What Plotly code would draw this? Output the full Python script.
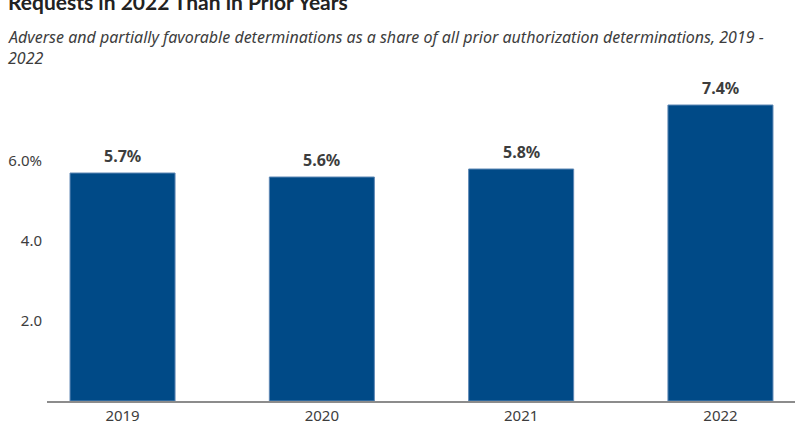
import plotly.graph_objects as go

years = ["2019", "2020", "2021", "2022"]
shares = [5.7, 5.6, 5.8, 7.4]
bar_labels = ["5.7%", "5.6%", "5.8%", "7.4%"]
ytick_vals = [2, 4, 6]
ytick_text = ["2.0", "4.0", "6.0%"]

title_text = "Requests in 2022 Than in Prior Years"
subtitle_1 = "Adverse and partially favorable determinations as a share of all prior authorization determinations, 2019 -"
subtitle_2 = "2022"

BAR = "#004a87"
TXT = "#3d3d3d"
FONT = "Noto Sans"

fig = go.Figure()
fig.add_trace(go.Bar(
    x=list(range(len(years))),
    y=shares,
    width=0.527,
    marker=dict(color=BAR, line=dict(color="#5f88b5", width=1)),
    hoverinfo="skip",
))

H_TOP = 97
H_BOT = 44
plot_h = 445 - H_TOP - H_BOT

def py(pix):
    return (445 - H_BOT - pix) / plot_h

annotations = [
    dict(x=i, y=v, xref="x", yref="y", text="<b>" + lab + "</b>",
         showarrow=False, yanchor="bottom", yshift=4,
         font=dict(family=FONT, size=16, color=TXT))
    for i, (v, lab) in enumerate(zip(shares, bar_labels))
]
annotations += [
    dict(text="<b>" + title_text + "</b>", xref="paper", yref="paper",
         x=(6 - 47) / 748, y=py(16), xanchor="left", yanchor="bottom",
         showarrow=False, font=dict(family="Lato", size=21, color="#222222")),
    dict(text="<i>" + subtitle_1 + "</i>", xref="paper", yref="paper",
         x=(6 - 47) / 748, y=py(50), xanchor="left", yanchor="bottom",
         showarrow=False, font=dict(family=FONT, size=16, color=TXT)),
    dict(text="<i>" + subtitle_2 + "</i>", xref="paper", yref="paper",
         x=(6 - 47) / 748, y=py(71), xanchor="left", yanchor="bottom",
         showarrow=False, font=dict(family=FONT, size=16, color=TXT)),
]

fig.update_layout(
    width=800, height=445,
    margin=dict(l=47, r=5, t=H_TOP, b=H_BOT),
    paper_bgcolor="white", plot_bgcolor="white",
    showlegend=False,
    font=dict(family=FONT, color=TXT),
    xaxis=dict(
        range=[-0.379, 3.374],
        tickvals=list(range(len(years))), ticktext=years,
        showgrid=False, zeroline=False,
        showline=True, linecolor="#8c8c8c", linewidth=1.5,
        ticks="", tickfont=dict(family=FONT, size=15, color=TXT),
    ),
    yaxis=dict(
        range=[0, 7.6],
        tickvals=ytick_vals, ticktext=ytick_text,
        showgrid=False, zeroline=False, showline=False,
        ticks="", ticklabelstandoff=4,
        tickfont=dict(family=FONT, size=15, color=TXT),
    ),
    annotations=annotations,
)

fig.write_html("out.html", config={"displayModeBar": False},
               post_script="document.body.style.margin='0';")
